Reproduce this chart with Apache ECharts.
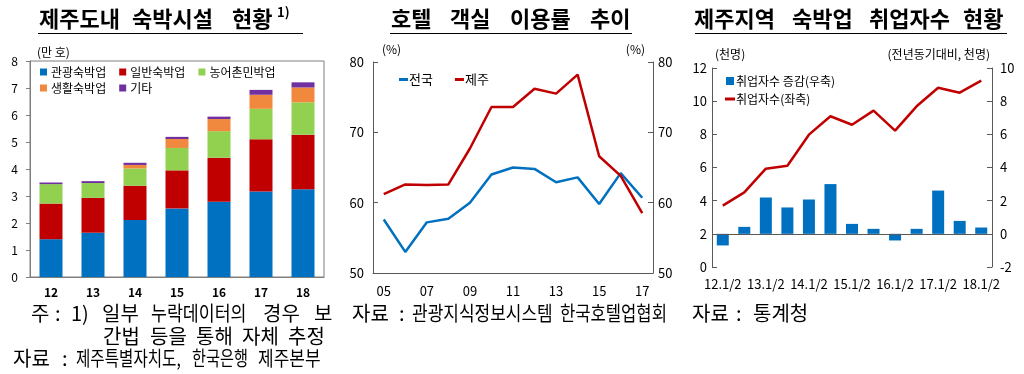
<!DOCTYPE html>
<html><head><meta charset="utf-8">
<script src="https://cdn.jsdelivr.net/npm/echarts@6/dist/echarts.min.js"></script>
<style>html,body{margin:0;padding:0;background:#fff}#c{width:1024px;height:374px}</style>
</head><body><div id="c"></div>
<script>
// Chart 1: 제주도내 숙박시설 현황 (만 호)
const years = ['12','13','14','15','16','17','18'];
const tourism = [1.40,1.64,2.11,2.54,2.79,3.17,3.25];
const general = [1.32,1.29,1.27,1.41,1.63,1.93,2.02];
const farmStay = [0.72,0.55,0.64,0.83,0.98,1.13,1.20];
const living = [0,0,0.13,0.33,0.45,0.52,0.55];
const others = [0.06,0.07,0.08,0.08,0.09,0.18,0.19];
// Chart 2: 호텔 객실 이용률 추이 (%)
const occYears = ['05','06','07','08','09','10','11','12','13','14','15','16','17'];
const nationalRate = [57.6,53.0,57.2,57.7,60.0,64.0,65.0,64.8,62.9,63.6,59.8,64.2,60.7];
const jejuRate = [61.2,62.6,62.5,62.6,67.7,73.6,73.6,76.2,75.5,78.2,66.6,63.8,58.5];
// Chart 3: 제주지역 숙박업 취업자수 현황 (천명)
const halfYears = ['12.1/2','12.2/2','13.1/2','13.2/2','14.1/2','14.2/2','15.1/2','15.2/2','16.1/2','16.2/2','17.1/2','17.2/2','18.1/2'];
const empChange = [-0.70,0.42,2.19,1.59,2.07,3.00,0.60,0.30,-0.40,0.30,2.61,0.78,0.38];
const employed = [3.70,4.50,5.93,6.11,7.98,9.09,8.58,9.43,8.22,9.69,10.81,10.51,11.24];

const FONT = "'Noto Sans CJK KR', 'Noto Sans', sans-serif";
const AX = '#595959';
const chart = echarts.init(document.getElementById('c'), null, {renderer:'canvas'});

function lab(extra){ return Object.assign({color:'#000', fontSize:12, fontFamily:FONT}, extra||{}); }

// place words of a text line at given x positions (layout only); optional horizontal squeeze
function words(list, y, size, weight){
  return list.map(function(w){
    return {type:'text', x:w[1], y:y, scaleX:(w[2]||1), style:{text:w[0], fontSize:size, fontWeight:weight||'normal', fontFamily:FONT, fill:'#000', verticalAlign:'middle', align:'left'}};
  });
}

const graphics = [].concat(
  words([['제주도내',39],['숙박시설',132],['현황',232]], 19, 22, 'bold'),
  [{type:'text', x:277, y:12, style:{text:'1)', fontSize:13, fontWeight:'bold', fontFamily:FONT, fill:'#000', verticalAlign:'middle'}}],
  words([['호텔',391],['객실',450],['이용률',510],['추이',590]], 19, 22, 'bold'),
  words([['제주지역',694],['숙박업',792],['취업자수',869],['현황',963]], 19, 22, 'bold'),
  [
    {type:'line', shape:{x1:38, y1:33.5, x2:303, y2:33.5}, style:{stroke:'#000', lineWidth:1.2}},
    {type:'line', shape:{x1:390, y1:33.5, x2:632, y2:33.5}, style:{stroke:'#000', lineWidth:1.2}},
    {type:'line', shape:{x1:695, y1:33.5, x2:1007, y2:33.5}, style:{stroke:'#000', lineWidth:1.2}}
  ],
  words([['주',31],[':',55],['1)',71],['일부',102],['누락데이터의',151,0.865],['경우',263],['보',314]], 313, 20),
  words([['간법',103],['등을',150],['통해',196],['자체',242],['추정',288]], 336, 20),
  words([['자료',13],[':',62],['제주특별자치도,',76,0.78],['한국은행',192,0.76],['제주본부',258,0.85]], 358, 20),
  words([['자료',352],[':',399],['관광지식정보시스템',412,0.85],['한국호텔업협회',560,0.83]], 313, 20),
  words([['자료',692],[':',736],['통계청',753]], 313, 20)
);

const option = {
  animation:false,
  textStyle:{fontFamily:FONT},
  grid:[
    {left:30, top:61, width:294, height:216, show:true, borderColor:'#7f7f7f', borderWidth:1, outerBoundsMode:'none'},
    {left:373, top:62, width:280, height:211, outerBoundsMode:'none'},
    {left:712, top:68, width:280, height:199, outerBoundsMode:'none'}
  ],
  xAxis:[
    {type:'category', gridIndex:0, data:years, axisLine:{lineStyle:{color:'#7f7f7f'}}, axisTick:{show:false},
     axisLabel:lab({fontWeight:'bold', margin:9})},
    {type:'category', gridIndex:1, data:occYears, boundaryGap:true, axisLine:{lineStyle:{color:AX}}, axisTick:{show:false},
     axisLabel:lab({interval:1, margin:12, fontSize:13})},
    {type:'category', gridIndex:2, data:halfYears, boundaryGap:true, axisLine:{show:false}, axisTick:{show:false},
     axisLabel:lab({interval:1, margin:11, fontSize:13})}
  ],
  yAxis:[
    {type:'value', gridIndex:0, min:0, max:8, interval:1, splitLine:{show:false},
     axisLine:{show:true, lineStyle:{color:'#7f7f7f'}}, axisTick:{show:true, length:4, lineStyle:{color:'#7f7f7f'}},
     axisLabel:lab({margin:12}),
     name:'(만 호)', nameLocation:'end', nameGap:3, nameTextStyle:lab({align:'left', padding:[0,0,0,7]})},
    {type:'value', gridIndex:1, min:50, max:80, interval:10, splitLine:{show:false},
     axisLine:{show:true, lineStyle:{color:AX}}, axisTick:{show:true, inside:true, length:5, lineStyle:{color:AX}},
     axisLabel:lab({margin:9, fontSize:13}),
     name:'(%)', nameLocation:'end', nameGap:7, nameTextStyle:lab({align:'left', padding:[0,0,0,9]})},
    {type:'value', gridIndex:1, position:'right', min:50, max:80, interval:10, splitLine:{show:false},
     axisLine:{show:true, lineStyle:{color:AX}}, axisTick:{show:true, inside:true, length:5, lineStyle:{color:AX}},
     axisLabel:lab({margin:5, fontSize:13}),
     name:'(%)', nameLocation:'end', nameGap:7, nameTextStyle:lab({align:'right', padding:[0,8,0,0]})},
    {type:'value', gridIndex:2, min:0, max:12, interval:2, splitLine:{show:false},
     axisLine:{show:true, lineStyle:{color:AX}}, axisTick:{show:true, inside:true, length:5, lineStyle:{color:AX}},
     axisLabel:lab({margin:5, fontSize:13}),
     name:'(천명)', nameLocation:'end', nameGap:8, nameTextStyle:lab({align:'left', padding:[0,0,0,3]})},
    {type:'value', gridIndex:2, position:'right', min:-2, max:10, interval:2, splitLine:{show:false},
     axisLine:{show:true, lineStyle:{color:AX}}, axisTick:{show:true, inside:true, length:5, lineStyle:{color:AX}},
     axisLabel:lab({margin:8, fontSize:13}),
     name:'(전년동기대비, 천명)', nameLocation:'end', nameGap:8, nameTextStyle:lab({align:'right', padding:[0,2,0,0]})}
  ],
  legend:[
    {data:['관광숙박업','일반숙박업','농어촌민박업'], left:40, top:66, padding:0, itemWidth:7, itemHeight:7, itemGap:13, icon:'rect', textStyle:lab({padding:[0,0,0,-1]})},
    {data:['생활숙박업','기타'], left:40, top:82, padding:0, itemWidth:7, itemHeight:7, itemGap:13, icon:'rect', textStyle:lab({padding:[0,0,0,-1]})},
    {data:['전국','제주'], left:399, top:73, padding:0, itemWidth:9, itemHeight:3, itemGap:22, icon:'rect', textStyle:lab({fontSize:13, padding:[0,0,0,-4]})},
    {data:['취업자수 증감(우축)'], left:726, top:75, padding:0, itemWidth:8, itemHeight:8, icon:'rect', textStyle:lab({fontSize:12, padding:[0,0,0,-3]})},
    {data:['취업자수(좌축)'], left:725, top:93, padding:0, itemWidth:10, itemHeight:3, icon:'rect', textStyle:lab({fontSize:12, padding:[0,0,0,-4]})}
  ],
  series:[
    {name:'관광숙박업', type:'bar', stack:'s', xAxisIndex:0, yAxisIndex:0, data:tourism, barWidth:23, itemStyle:{color:'#0070C0'}},
    {name:'일반숙박업', type:'bar', stack:'s', xAxisIndex:0, yAxisIndex:0, data:general, barWidth:23, itemStyle:{color:'#C00000'}},
    {name:'농어촌민박업', type:'bar', stack:'s', xAxisIndex:0, yAxisIndex:0, data:farmStay, barWidth:23, itemStyle:{color:'#92D050'}},
    {name:'생활숙박업', type:'bar', stack:'s', xAxisIndex:0, yAxisIndex:0, data:living, barWidth:23, itemStyle:{color:'#F0883E'}},
    {name:'기타', type:'bar', stack:'s', xAxisIndex:0, yAxisIndex:0, data:others, barWidth:23, itemStyle:{color:'#7030A0'}},
    {name:'전국', type:'line', xAxisIndex:1, yAxisIndex:1, data:nationalRate, symbol:'none', lineStyle:{width:2.5, color:'#0070C0'}, itemStyle:{color:'#0070C0'}},
    {name:'제주', type:'line', xAxisIndex:1, yAxisIndex:1, data:jejuRate, symbol:'none', lineStyle:{width:2.5, color:'#C00000'}, itemStyle:{color:'#C00000'}},
    {name:'취업자수 증감(우축)', type:'bar', xAxisIndex:2, yAxisIndex:4, data:empChange, barWidth:12, itemStyle:{color:'#0070C0'},
     markLine:{silent:true, symbol:'none', label:{show:false}, lineStyle:{color:AX, width:1, type:'solid'}, data:[{yAxis:0}]}},
    {name:'취업자수(좌축)', type:'line', xAxisIndex:2, yAxisIndex:3, data:employed, symbol:'none', z:5, lineStyle:{width:2.5, color:'#C00000'}, itemStyle:{color:'#C00000'}}
  ],
  graphic:graphics
};
chart.setOption(option);
</script></body></html>
